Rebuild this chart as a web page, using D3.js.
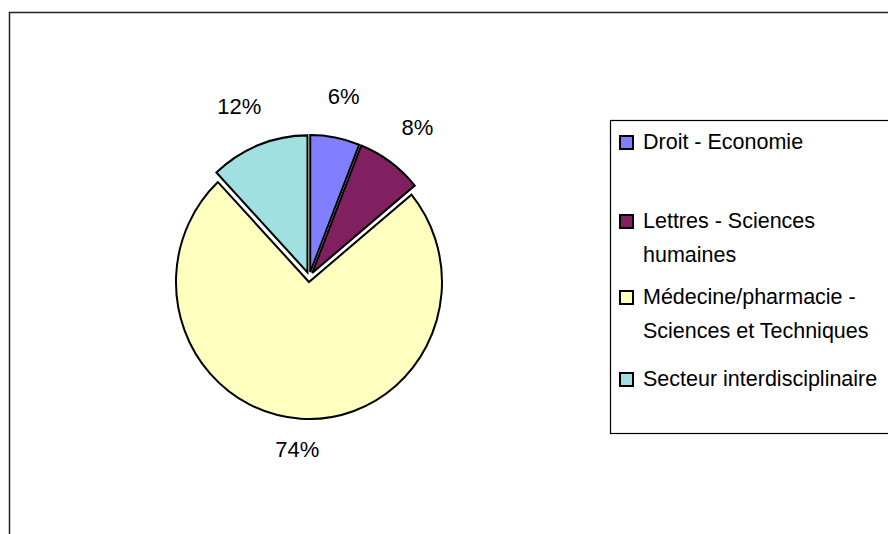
<!DOCTYPE html>
<html>
<head>
<meta charset="utf-8">
<script src="https://cdn.jsdelivr.net/npm/d3@7"></script>
<style>
  body { margin: 0; background: #fff; }
  svg { display: block; }
  text { font-family: "Liberation Sans", Arial, sans-serif; fill: #000; }
</style>
</head>
<body>
<div id="chart"></div>
<script>
// chart data
var categories = ["Droit - Economie", "Lettres - Sciences humaines",
                  "Médecine/pharmacie - Sciences et Techniques", "Secteur interdisciplinaire"];
var legendLines = [["Droit - Economie"], ["Lettres - Sciences", "humaines"],
                   ["Médecine/pharmacie -", "Sciences et Techniques"], ["Secteur interdisciplinaire"]];
var shares = [6, 8, 74, 12];
var colors = ["#8080ff", "#802060", "#ffffc0", "#a0e0e0"];

var width = 888, height = 534;

var svg = d3.select("#chart").append("svg")
    .attr("width", width)
    .attr("height", height);

// outer chart frame
svg.append("rect")
    .attr("x", 9.5).attr("y", 12.5)
    .attr("width", width).attr("height", height)
    .attr("fill", "none")
    .attr("stroke", "#222")
    .attr("stroke-width", 1.5);

// pie
var cx = 309.3, cy = 277, rx = 133, ry = 137, explode = 5;

var pie = d3.pie().sort(null).value(function(d) { return d; });
var arcs = pie(shares);
var arc = d3.arc().innerRadius(0).outerRadius(rx);
var fmt = function(v) { return d3.format("d")(v) + "%"; };

var pieG = svg.append("g").attr("class", "pie");

arcs.forEach(function(d, i) {
    var a = (d.startAngle + d.endAngle) / 2;
    var s = Math.sin(a), c = -Math.cos(a);
    pieG.append("g")
        .attr("transform", "translate(" + (cx + explode * s) + "," + (cy + explode * c) + ") scale(1," + (ry / rx) + ")")
      .append("path")
        .attr("d", arc(d))
        .attr("fill", colors[i])
        .attr("stroke", "#000")
        .attr("stroke-width", 2)
        .attr("stroke-linejoin", "miter");
});

// percentage labels outside the slices
var labelR = 163, fs = 22;
arcs.forEach(function(d, i) {
    var a = (d.startAngle + d.endAngle) / 2;
    var s = Math.sin(a), c = -Math.cos(a);
    var t = svg.append("text")
        .attr("font-size", fs + "px")
        .attr("text-anchor", "middle")
        .text(fmt(shares[i]));
    var w = t.node().getComputedTextLength(), h = 20;
    var mx = cx + explode * s + labelR * s + s * w / 2;
    var my = cy + explode * c + labelR * c + c * h / 2 - 5.7;
    t.attr("x", mx).attr("y", my + 0.716 * fs / 2);
});

// legend
var legendX = 610.5, legendTop = 120.5, legendBottom = 433.5;
var legendY = [149, 228, 304, 386];   // first-line baselines
var lineGap = 34;

svg.append("rect")
    .attr("x", legendX).attr("y", legendTop)
    .attr("width", 300).attr("height", legendBottom - legendTop)
    .attr("fill", "#fff")
    .attr("stroke", "#000")
    .attr("stroke-width", 1.2);

var items = svg.append("g").attr("class", "legend")
  .selectAll("g").data(categories).enter().append("g")
    .attr("transform", function(d, i) { return "translate(0," + legendY[i] + ")"; });

items.append("rect")
    .attr("x", 620).attr("y", -13)
    .attr("width", 13).attr("height", 13)
    .attr("fill", function(d, i) { return colors[i]; })
    .attr("stroke", "#000")
    .attr("stroke-width", 2);

items.append("text")
    .attr("x", 643)
    .attr("font-size", "21.5px")
    .selectAll("tspan").data(function(d, i) { return legendLines[i]; }).enter().append("tspan")
    .attr("x", 643)
    .attr("y", function(d, j) { return j * lineGap; })
    .text(function(d) { return d; });
</script>
</body>
</html>
